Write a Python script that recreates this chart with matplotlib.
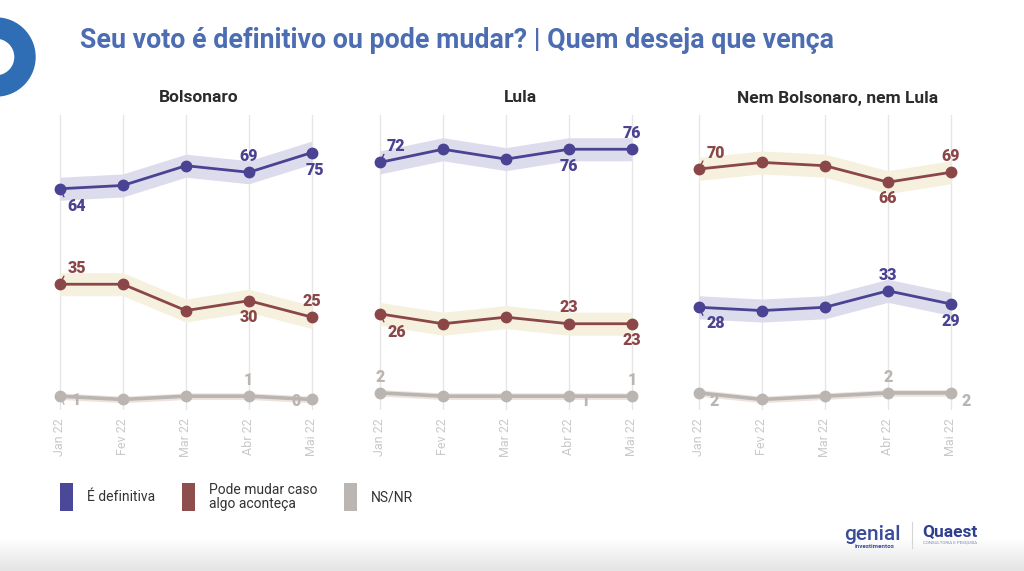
import matplotlib
matplotlib.use("Agg")
import matplotlib.pyplot as plt
import numpy as np
from matplotlib.patches import Wedge, Rectangle
from matplotlib.colors import LinearSegmentedColormap

# ---------------- data ----------------
months = ["Jan 22", "Fev 22", "Mar 22", "Abr 22", "Mai 22"]
panels = ["Bolsonaro", "Lula", "Nem Bolsonaro, nem Lula"]
series_names = ["É definitiva", "Pode mudar caso\nalgo aconteça", "NS/NR"]

bolsonaro_def = [64, 65, 71, 69, 75]
bolsonaro_pode = [35, 35, 27, 30, 25]
bolsonaro_nsnr = [1, 0, 1, 1, 0]

lula_def = [72, 76, 73, 76, 76]
lula_pode = [26, 23, 25, 23, 23]
lula_nsnr = [2, 1, 1, 1, 1]

nem_def = [28, 27, 28, 33, 29]
nem_pode = [70, 72, 71, 66, 69]
nem_nsnr = [2, 0, 1, 2, 2]

panel_data = [
    [bolsonaro_def, bolsonaro_pode, bolsonaro_nsnr],
    [lula_def, lula_pode, lula_nsnr],
    [nem_def, nem_pode, nem_nsnr],
]

# labelled points: (panel, series, point) -> (dx px, dy px (down), leader)
label_spec = {
    (0, 0, 0): (17, 17, True), (0, 0, 3): (0, -16, False), (0, 0, 4): (3, 17, False),
    (0, 1, 0): (17, -16, True), (0, 1, 3): (0, 16, False), (0, 1, 4): (0, -16, False),
    (0, 2, 0): (16, 4, True), (0, 2, 3): (-1, -16, False), (0, 2, 4): (-16, 2, False),
    (1, 0, 0): (16, -16, True), (1, 0, 3): (0, 17, False), (1, 0, 4): (0, -16, False),
    (1, 1, 0): (17, 18, True), (1, 1, 3): (0, -17, False), (1, 1, 4): (0, 16, False),
    (1, 2, 0): (0, -16, False), (1, 2, 3): (16, 5, False), (1, 2, 4): (0, -16, False),
    (2, 0, 0): (17, 16, True), (2, 0, 3): (0, -16, False), (2, 0, 4): (0, 17, False),
    (2, 1, 0): (17, -16, True), (2, 1, 3): (0, 16, False), (2, 1, 4): (0, -16, False),
    (2, 2, 0): (15, 8, False), (2, 2, 3): (0, -16, False), (2, 2, 4): (15, 8, False),
}

# ---------------- style ----------------
W, H = 1024, 571
line_colors = ["#4a4292", "#8b4747", "#bbb5b1"]
band_colors = ["#dddcec", "#f6f1df", "#ece3df"]
band_half = [3.5, 3.5, 1.0]
legend_colors = ["#4b4799", "#8e4e4e", "#bcb6b2"]
title_color = "#4d6db2"
font = "Roboto"

fig = plt.figure(figsize=(W / 100, H / 100), dpi=100)
fig.patch.set_facecolor("white")

# overlay axes in pixel coordinates
ov = fig.add_axes([0, 0, 1, 1], zorder=0)
ov.axis("off")

# bottom gradient strip
grad = np.linspace(0, 1, 100).reshape(-1, 1)
cmap = LinearSegmentedColormap.from_list("g", ["#ffffff", "#e4e4e4"])
ov.imshow(grad, extent=(0, W, H, 538), cmap=cmap, aspect="auto", zorder=0)
ov.set_xlim(0, W)
ov.set_ylim(H, 0)

# decorative ring at top-left
ov.add_patch(Wedge((-4, 57), 39, 0, 360, width=20, color="#2f6db4", zorder=1))

# main title
ov.text(80, 40, "Seu voto é definitivo ou pode mudar? | Quem deseja que vença",
        color=title_color, fontsize=19.3, fontweight="bold", family=font,
        va="center", ha="left")

# legend
leg_x = [60, 182, 344]
for i, name in enumerate(series_names):
    ov.add_patch(Rectangle((leg_x[i], 483), 13, 28, color=legend_colors[i], lw=0))
    ov.text(leg_x[i] + 27, 497, name, fontsize=10, family=font, color="#333333",
            va="center", ha="left", linespacing=1.0)

# logos (approximation as text)
ov.text(872, 535, "genial", fontsize=15, family=font, color="#3b4c9b",
        ha="center", va="center", fontweight="medium")
ov.text(875, 546, "investimentos", fontsize=4.5, family=font, color="#3b4c9b",
        ha="center", va="center", fontweight="bold")
ov.plot([912, 912], [522, 548], color="#d5d5d5", lw=0.8)
ov.text(950, 532, "Quaest", fontsize=12.5, family=font, color="#2e3f8f",
        ha="center", va="center", fontweight="bold")
ov.text(950, 543, "CONSULTORIA E PESQUISA", fontsize=3.2, family=font, color="#7a84b5",
        ha="center", va="center")

# panels
unit = 63.0
x = np.arange(len(months))
ax_left_px = [41, 361, 680]
top_px, bot_px = 115, 410
title_x = [199, 520, 838]
ymin, ymax = -3.2, 86.4

for p in range(3):
    l = ax_left_px[p]
    ax = fig.add_axes([l / W, 1 - bot_px / H, (4.6 * unit) / W, (bot_px - top_px) / H], zorder=2)
    ax.set_facecolor("none")
    ax.set_xlim(-0.3, 4.3)
    ax.set_ylim(ymin, ymax)
    for s in ax.spines.values():
        s.set_visible(False)
    ax.set_yticks([])
    ax.set_xticks(x)
    ax.set_xticklabels(months, rotation=90, color="#c9c9c9", fontsize=9, family=font)
    ax.tick_params(axis="x", length=0, pad=6)
    ax.grid(axis="x", color="#e6e6e6", lw=1)
    ax.set_axisbelow(True)

    for s in range(3):
        vals = np.array(panel_data[p][s], dtype=float)
        ax.fill_between(x, vals - band_half[s], vals + band_half[s],
                        color=band_colors[s], lw=0, zorder=1)
        ax.plot(x, vals, color=line_colors[s], lw=2.0 if s < 2 else 2.6, zorder=2)
        ax.plot(x, vals, "o", color=line_colors[s], ms=7.5, zorder=3)
        for i, v in enumerate(panel_data[p][s]):
            key = (p, s, i)
            if key in label_spec:
                dx, dy, leader = label_spec[key]
                ax.annotate(str(v), xy=(i, v), xytext=(dx, -dy), textcoords="offset pixels",
                            ha="center", va="center", fontsize=11.5, fontweight="black",
                            family=font, color=line_colors[s], zorder=4,
                            annotation_clip=False)
                if leader:
                    sx = 1 if dx > 0 else -1
                    sy = -1 if dy > 0 else 1
                    ax.annotate("", xy=(i, v), xytext=(sx * 4, sy * 8),
                                textcoords="offset pixels",
                                arrowprops=dict(arrowstyle="-", color=line_colors[s], lw=1.0,
                                                shrinkA=0, shrinkB=0), zorder=4)

    ov.text(title_x[p], 98, panels[p], fontsize=12.5, fontweight="bold", family=font,
            color="#2b2b2b", ha="center", va="center")

fig.savefig("out.png", dpi=100, facecolor="white")
